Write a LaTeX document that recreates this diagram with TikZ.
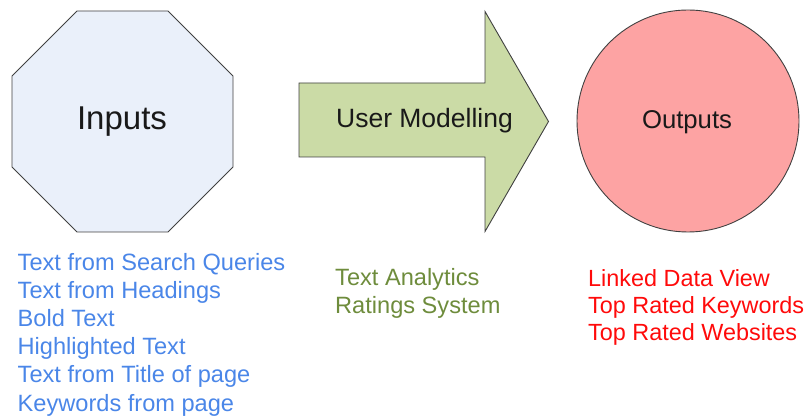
\documentclass[tikz,border=0pt]{standalone}
\usepackage{fontspec}
\setmainfont{Liberation Sans}
\definecolor{octfill}{HTML}{EAF0FA}
\definecolor{arrowfill}{HTML}{CBDBA6}
\definecolor{circfill}{HTML}{FDA3A3}
\definecolor{inblue}{HTML}{4A86E8}
\definecolor{midgreen}{HTML}{6E8C3C}
\definecolor{outred}{HTML}{FF0A0A}
\begin{document}
\begin{tikzpicture}[x=1pt,y=-1pt,
  shapeline/.style={draw=black!75,line width=0.9pt,line join=miter},
  title/.style={inner sep=0pt,anchor=base,text=black!90},
  listitem/.style={inner sep=0pt,anchor=base west,font=\fontsize{23}{28}\selectfont}]
\useasboundingbox (0,0) rectangle (810,419);

% octagon
\draw[shapeline,fill=octfill] (77,11) -- (168,11) -- (233,76) -- (233,167)
  -- (168,232) -- (77,232) -- (12,167) -- (12,76) -- cycle;
\node[title,font=\fontsize{33}{38}\selectfont] (inputs) at (122,130) {Inputs};

% block arrow
\draw[shapeline,fill=arrowfill] (299,83) -- (485,83) -- (485,11.5) -- (548.5,121.5)
  -- (485,231.5) -- (485,157) -- (299,157) -- cycle;
\node[title,font=\fontsize{26.5}{30}\selectfont] (model) at (424.5,128) {User Modelling};

% circle
\draw[shapeline,fill=circfill] (688,121) circle[radius=111];
\node[title,font=\fontsize{25.7}{30}\selectfont] (outputs) at (687,128.3) {Outputs};

% input sources
\foreach \txt [count=\i] in {Text from Search Queries,Text from Headings,Bold Text,
    Highlighted Text,Text from Title of page,Keywords from page}
  \node[listitem,text=inblue,font=\fontsize{23.6}{28}\selectfont] (in\i) at (17.5,{270.5+28.1*(\i-1)}) {\txt};

% modelling methods
\foreach \txt [count=\i] in {Text Analytics,Ratings System}
  \node[listitem,text=midgreen,font=\fontsize{23.6}{28}\selectfont] (md\i) at (335,{285+28*(\i-1)}) {\txt};

% output views
\foreach \txt [count=\i] in {Linked Data View,Top Rated Keywords,Top Rated Websites}
  \node[listitem,text=outred,font=\fontsize{23.4}{28}\selectfont] (out\i) at (588,{286.5+27*(\i-1)}) {\txt};
\end{tikzpicture}
\end{document}
